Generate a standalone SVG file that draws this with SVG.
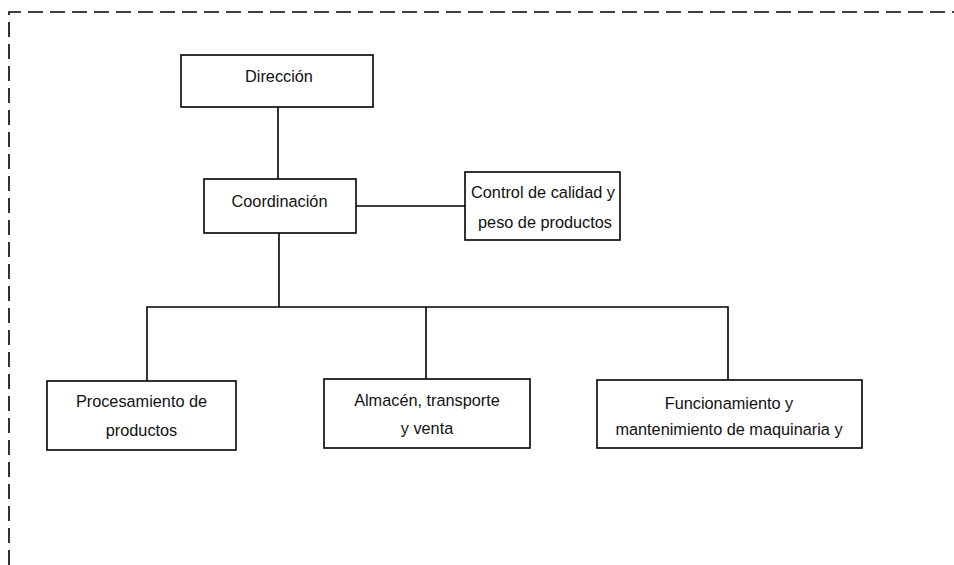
<svg xmlns="http://www.w3.org/2000/svg" width="954" height="565" viewBox="0 0 954 565">
<style>
.box{fill:#fff;stroke:#000;stroke-width:1.6}
.ln{fill:none;stroke:#000;stroke-width:1.6}
.border{fill:none;stroke:#000;stroke-width:1.6;stroke-dasharray:15 7}
text{font-family:"Liberation Sans",Arial,sans-serif;font-size:16.3px;fill:#111;text-anchor:middle;dominant-baseline:central}
</style>
<rect width="954" height="565" fill="#fff"/>
<path class="border" d="M9,565 L9,12 L954,12"/>
<g id="connectors">
<path class="ln" d="M278,107 V179"/>
<path class="ln" d="M356,206 H465"/>
<path class="ln" d="M279,233 V307"/>
<path class="ln" d="M147,381 V307 H728 V380"/>
<path class="ln" d="M426,307 V379"/>
</g>
<g id="direccion"><rect class="box" x="181" y="55" width="192" height="52"/><text x="279" y="76">Dirección</text></g>
<g id="coordinacion"><rect class="box" x="204" y="179" width="152" height="54"/><text x="279.5" y="201">Coordinación</text></g>
<g id="control"><rect class="box" x="465" y="172" width="155" height="68"/><text x="543" y="192">Control de calidad y</text><text x="545" y="222">peso de productos</text></g>
<g id="procesamiento"><rect class="box" x="47" y="381" width="189" height="69"/><text x="141.5" y="401">Procesamiento de</text><text x="141.5" y="430">productos</text></g>
<g id="almacen"><rect class="box" x="324" y="379" width="206" height="69"/><text x="427" y="400">Almacén, transporte</text><text x="427" y="428">y venta</text></g>
<g id="funcionamiento"><rect class="box" x="597" y="380" width="265" height="68"/><text x="729" y="403">Funcionamiento y</text><text x="729" y="429">mantenimiento de maquinaria y</text></g>
</svg>
